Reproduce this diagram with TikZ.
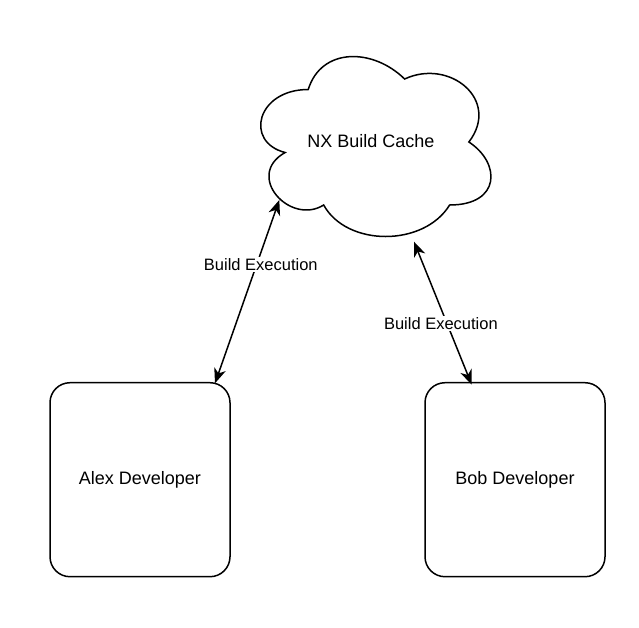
\documentclass[tikz,border=0pt]{standalone}
\usepackage{fontspec}
\setmainfont{Liberation Sans}
\usetikzlibrary{arrows.meta}
\tikzset{
  devbox/.style={draw, line width=1.5pt, rounded corners=20pt, minimum width=180pt, minimum height=194pt, inner sep=0pt, outer sep=0pt, font=\fontsize{18}{22}\selectfont},
  cloudline/.style={draw, fill=white, line width=1.5pt},
  cachetext/.style={inner sep=0pt, font=\fontsize{18}{22}\selectfont},
  conn/.style={line width=1.5pt, {Stealth[length=15pt,width=12pt,inset=4.5pt]}-{Stealth[length=15pt,width=12pt,inset=4.5pt]}},
  lbl/.style={fill=white, inner sep=1.5pt, font=\fontsize{16.5}{20}\selectfont}
}
\begin{document}
\begin{tikzpicture}[x=1pt,y=1pt]
\useasboundingbox (0,0) rectangle (639,-627);
% cloud
\begin{scope}[shift={(244,-37)}, x=257pt, y=-210pt]
\path[cloudline] (0.25,0.25) .. controls (0.05,0.25) and (0,0.5) .. (0.16,0.55)
 .. controls (0,0.66) and (0.18,0.9) .. (0.31,0.8)
 .. controls (0.4,1) and (0.7,1) .. (0.8,0.8)
 .. controls (1,0.8) and (1,0.6) .. (0.875,0.5)
 .. controls (1,0.3) and (0.8,0.1) .. (0.625,0.2)
 .. controls (0.5,0.05) and (0.3,0.05) .. (0.25,0.25) -- cycle;
\end{scope}
\node[cachetext] (cache) at (371,-141) {NX Build Cache};
\coordinate (cacheL) at (279.3,-200);
\coordinate (cacheR) at (414,-241.7);
% developers
\node[devbox] (alex) at (140,-479.7) {Alex Developer};
\node[devbox] (bob) at (515,-479.7) {Bob Developer};
\coordinate (alexTop) at ([xshift=-15pt,yshift=-0.6pt]alex.north east);
\coordinate (bobTop) at ([xshift=46.7pt,yshift=-2pt]bob.north west);
% connectors
\draw[conn] (alexTop) -- node[lbl, pos=0.65, xshift=4pt] {Build Execution} (cacheL);
\draw[conn] (bobTop) -- node[lbl, pos=0.43, xshift=-6pt] {Build Execution} (cacheR);
\end{tikzpicture}
\end{document}
